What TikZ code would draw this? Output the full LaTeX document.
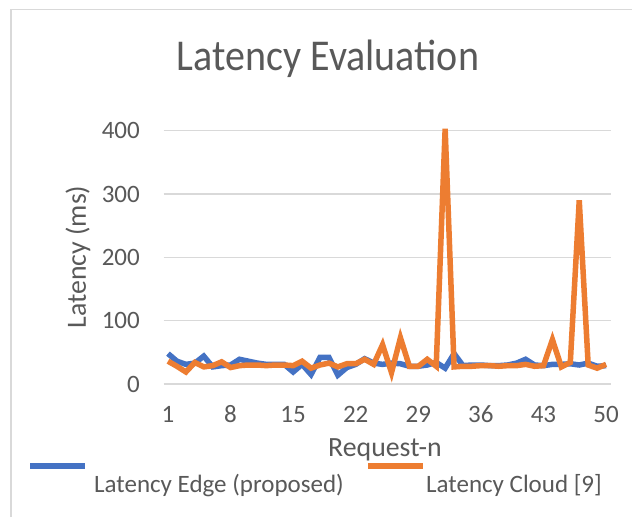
\documentclass[tikz,border=0pt]{standalone}
\usepackage{fontspec}
\setmainfont{Carlito}
\usetikzlibrary{positioning}
\definecolor{txtgray}{RGB}{89,89,89}
\definecolor{gridgray}{RGB}{217,217,217}
\definecolor{edgeblue}{RGB}{68,114,196}
\definecolor{cloudorange}{RGB}{237,125,49}

\begin{document}
\begin{tikzpicture}[x=1pt,y=-1pt,
  grid/.style={draw=gridgray,line width=1.6pt},
  tick/.style={text=txtgray,font=\fontsize{25}{30}\selectfont,inner sep=0pt},
  axtitle/.style={text=txtgray,font=\fontsize{27.8}{33}\selectfont,inner sep=0pt},
  legtxt/.style={text=txtgray,font=\fontsize{25}{30}\selectfont,inner sep=0pt},
  edgeline/.style={draw=edgeblue,line width=5.5pt},
  cloudline/.style={draw=cloudorange,line width=5.5pt}]

 \useasboundingbox (0,0) rectangle (632,517);
 \fill[white] (0,0) rectangle (632,517);

 % chart frame
 \draw[gridgray,line width=1.5pt] (11,517) -- (11,9.5) -- (632,9.5);

 \node[text=txtgray,font=\fontsize{40}{46}\selectfont,inner sep=0pt,anchor=base,yscale=1.1]
   (title) at (328,70) {Latency Evaluation};

 \begin{scope}[shift={(159.06,384)},x=8.94pt,y=0.6333pt]
  % grid and ticks
  \foreach \v in {0,100,...,400}{
   \draw[grid] (0.5,\v) -- (50.5,\v);
   \node[tick,anchor=east] (ylab\v) at ([xshift=-23.5pt]0.5,\v) {\v};
  }
  \foreach \n in {1,8,...,50}
   \node[tick,anchor=base] (xlab\n) at ([yshift=-38pt]\n,0) {\n};

  % edge series
  \draw[edgeline] plot coordinates {(1,48) (2,36) (3,31) (4,33) (5,44) (6,27) (7,29)
   (8,30) (9,39) (10,36) (11,33) (12,31) (13,31) (14,31) (15,19) (16,31) (17,15)
   (18,42) (19,42) (20,14) (21,26) (22,31) (23,40) (24,33) (25,31) (26,33) (27,32)
   (28,28) (29,28) (30,30) (31,34) (32,25) (33,48) (34,29) (35,30) (36,30) (37,29)
   (38,29) (39,30) (40,33) (41,39) (42,30) (43,29) (44,31) (45,31) (46,32) (47,30)
   (48,33) (49,28) (50,29)};

  % cloud series
  \draw[cloudline] plot coordinates {(1,36) (2,28) (3,19) (4,34) (5,27) (6,29) (7,35)
   (8,26) (9,29) (10,30) (11,30) (12,29) (13,30) (14,30) (15,29) (16,36) (17,25)
   (18,30) (19,33) (20,27) (21,32) (22,32) (23,39) (24,31) (25,62) (26,18) (27,73)
   (28,28) (29,28) (30,39) (31,28) (32,403) (33,27) (34,28) (35,28) (36,29) (37,29)
   (38,28) (39,29) (40,29) (41,31) (42,28) (43,29) (44,70) (45,27) (46,34) (47,290)
   (48,30) (49,25) (50,31)};
 \end{scope}

 \node[axtitle,rotate=90] (ytitle) at (78,257) {Latency (ms)};
 \node[axtitle,anchor=base] (xtitle) at (385,456) {Request-n};

 % legend
 \coordinate (edgeA) at (30,466);
 \coordinate (edgeB) at (85,466);
 \coordinate (cloudA) at (368,466);
 \coordinate (cloudB) at (423,466);
 \draw[edgeline] (edgeA) -- (edgeB);
 \draw[cloudline] (cloudA) -- (cloudB);
 \node[legtxt,anchor=base west] (edgelab) at (94,492) {Latency Edge (proposed)};
 \node[legtxt,anchor=base west] (cloudlab) at (426,492) {Latency Cloud [9]};
\end{tikzpicture}
\end{document}
